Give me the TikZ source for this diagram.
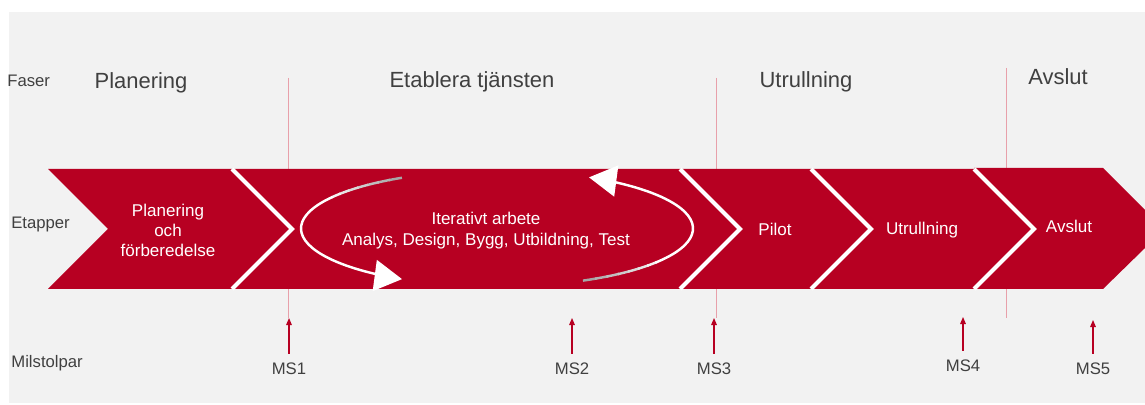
\documentclass[tikz,border=0pt]{standalone}
\usepackage{fontspec}
\setmainfont{Liberation Sans}
\usetikzlibrary{arrows.meta}
\definecolor{chevred}{RGB}{183,0,34}
\definecolor{bggray}{RGB}{242,242,242}
\definecolor{labelgray}{RGB}{64,64,64}
\definecolor{msline}{RGB}{232,160,170}
\tikzset{
  fas/.style={font=\fontsize{12.5}{15}\selectfont, text=labelgray, anchor=base},
  side/.style={font=\fontsize{9.5}{11}\selectfont, text=labelgray, anchor=base west, inner sep=0pt},
  etapp/.style={font=\fontsize{9.7}{11.5}\selectfont, text=white, align=center, inner sep=0pt},
  mslabel/.style={font=\fontsize{9.5}{11}\selectfont, text=labelgray, inner sep=0pt, outer sep=0.19cm, anchor=base},
  msarrow/.style={draw=chevred, line width=0.6pt, -{Triangle[length=4pt,width=3.2pt]}},
  gap/.style={draw=white, line width=2.3pt},
  loopline/.style={line width=1.4pt, draw=white},
  looptip/.style={-{Triangle[length=0.55cm,width=0.62cm]}}
}
\begin{document}
\begin{tikzpicture}[x=0.02cm, y=0.02cm]
  \useasboundingbox (0,0) rectangle (1145,405);
  \fill[bggray] (9,2) rectangle (1145,393);

  \draw[msline, line width=0.4pt] (288,327) -- (288,87);
  \draw[msline, line width=0.4pt] (716,327) -- (716,87);
  \draw[msline, line width=0.4pt] (1006,337) -- (1006,87);

  \foreach \l/\r in {48/232,232/680,680/811,811/974}
    \fill[chevred] (\l,236) -- (\r,236) -- ++(60,-60) -- (\r,116) -- (\l,116) -- ++(60,60) -- cycle;
  \fill[chevred] (974,237) -- (1103,237) -- (1145,195) -- (1145,157) -- (1103,116) -- (974,116) -- (1034,176) -- cycle;
  \foreach \x in {232,680,811,974}
    \draw[gap] (\x,236) -- ++(60,-60) -- ++(-60,-60);

  \coordinate (loopc) at (497,176.5);
  \foreach \a/\s in {119/30,123/40,127/50,131/60,135/70,139/80,143/90}
    \draw[loopline, draw=white!\s!gray] ([shift={(\a:196 and 58)}]loopc) arc[start angle=\a, end angle=\a+4.5, x radius=196, y radius=58];
  \draw[loopline, looptip] ([shift={(147:196 and 58)}]loopc) arc[start angle=147, end angle=240, x radius=196, y radius=58] -- ++(3,-0.4);
  \foreach \a/\s in {-64/30,-60/40,-56/50,-52/60,-48/70,-44/80,-40/90}
    \draw[loopline, draw=white!\s!gray] ([shift={(\a:196 and 58)}]loopc) arc[start angle=\a, end angle=\a+4.5, x radius=196, y radius=58];
  \draw[loopline, looptip] ([shift={(-36:196 and 58)}]loopc) arc[start angle=-36, end angle=61, x radius=196, y radius=58] -- ++(-3,0.4);

  \node[side] (faser) at (7,318) {Faser};
  \node[side] (etapper) at (11,176) {Etapper};
  \node[side] (milstolpar) at (11,37) {Milstolpar};

  \node[fas] (planering) at (141,316) {Planering};
  \node[fas] (etablera) at (472,317) {Etablera tjänsten};
  \node[fas] (utrullning) at (806,317) {Utrullning};
  \node[fas] (avslut) at (1058,320) {Avslut};

  \node[etapp] (e1) at (168,174.7) {Planering\\och\\förberedelse};
  \node[etapp] (e2) at (486,174.5) {Iterativt arbete\\Analys, Design, Bygg, Utbildning, Test};
  \node[etapp, anchor=base] (e3) at (775,169) {Pilot};
  \node[etapp, anchor=base] (e4) at (922,170) {Utrullning};
  \node[etapp, anchor=base] (e5) at (1069,172) {Avslut};

  \foreach \n/\x/\b/\t in {1/289/30/87,2/572/30/87,3/714/30/87,4/963/33/88,5/1093/30/85} {
    \node[mslabel] (ms\n) at (\x,\b) {MS\n};
    \coordinate (ms\n tip) at (\x,\t);
    \draw[msarrow] (ms\n) -- (ms\n tip);
  }
\end{tikzpicture}
\end{document}
